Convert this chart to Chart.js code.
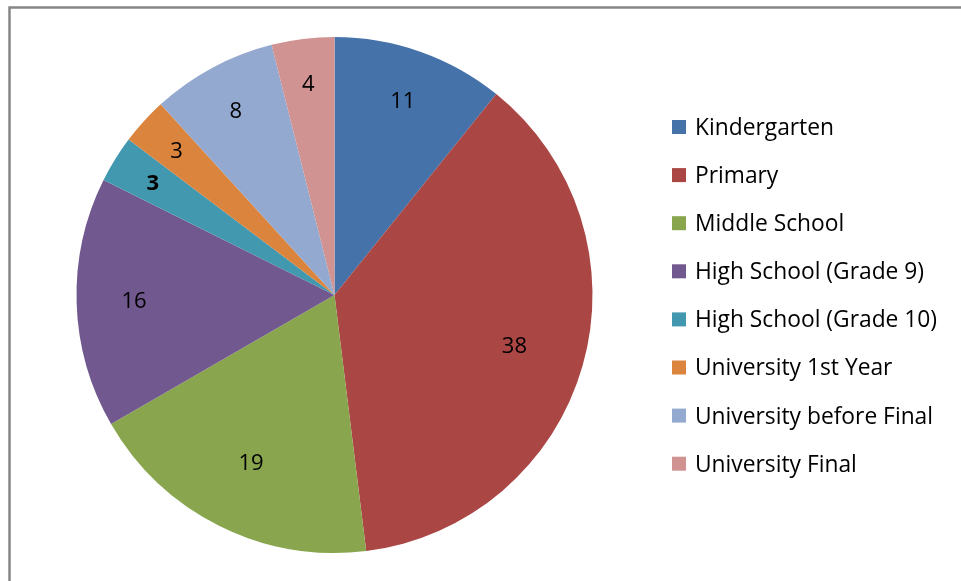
<!DOCTYPE html>
<html>
<head>
<meta charset="utf-8">
<script src="https://cdn.jsdelivr.net/npm/chart.js@4/dist/chart.umd.min.js"></script>
<style>
  html, body { margin: 0; padding: 0; background: #fff; }
  #wrap { position: relative; width: 961px; height: 581px; }
</style>
</head>
<body>
<div id="wrap"><canvas id="c" width="961" height="581"></canvas></div>
<script>
const categories = ["Kindergarten", "Primary", "Middle School", "High School (Grade 9)", "High School (Grade 10)", "University 1st Year", "University before Final", "University Final"];
const values = [11, 38, 19, 16, 3, 3, 8, 4];
const colors = ["#4672AA", "#AA4644", "#89A54E", "#71588F", "#4198AF", "#DB843D", "#93A9CF", "#D19392"];
const boldLabels = [false, false, false, false, true, false, false, false];

const FONT = "'Open Sans', 'Noto Sans', sans-serif";

const frame = {
  id: 'frame',
  beforeDraw(chart) {
    const ctx = chart.ctx;
    ctx.save();
    ctx.fillStyle = '#fff';
    ctx.fillRect(0, 0, chart.width, chart.height);
    ctx.strokeStyle = '#868686';
    ctx.lineWidth = 2.5;
    ctx.strokeRect(9.5, 7.5, 1000, 700);
    ctx.restore();
  }
};

const valueLabels = {
  id: 'valueLabels',
  afterDatasetsDraw(chart) {
    const ctx = chart.ctx;
    const meta = chart.getDatasetMeta(0);
    const total = values.reduce((a, b) => a + b, 0);
    ctx.save();
    ctx.fillStyle = '#000';
    ctx.textAlign = 'center';
    ctx.textBaseline = 'middle';
    meta.data.forEach((arc, i) => {
      const p = arc.getProps(['x', 'y', 'startAngle', 'endAngle', 'outerRadius'], true);
      const mid = (p.startAngle + p.endAngle) / 2;
      const share = values[i] / total;
      const r = p.outerRadius * (share > 0.17 ? 0.725 : 0.84 - share * 0.4);
      ctx.font = (boldLabels[i] ? 'bold ' : '') + '22px ' + FONT;
      ctx.fillText(String(values[i]), p.x + Math.cos(mid) * r, p.y + Math.sin(mid) * r + 1);
    });
    ctx.restore();
  }
};

const sideLegend = {
  id: 'sideLegend',
  afterDraw(chart) {
    const ctx = chart.ctx;
    ctx.save();
    ctx.font = '22.8px ' + FONT;
    ctx.textBaseline = 'middle';
    ctx.textAlign = 'left';
    categories.forEach((name, i) => {
      const y = 127 + i * 48.1;
      ctx.fillStyle = colors[i];
      ctx.fillRect(672, y - 7, 14, 14);
      ctx.fillStyle = '#000';
      ctx.fillText(name, 695, y + 1.5);
    });
    ctx.restore();
  }
};

new Chart(document.getElementById('c'), {
  type: 'pie',
  data: {
    labels: categories,
    datasets: [{
      data: values,
      backgroundColor: colors,
      borderWidth: 0
    }]
  },
  options: {
    responsive: false,
    animation: false,
    layout: { padding: { left: 76, top: 37, right: 368, bottom: 28 } },
    plugins: {
      legend: { display: false },
      tooltip: { enabled: false }
    }
  },
  plugins: [frame, valueLabels, sideLegend]
});
</script>
</body>
</html>
